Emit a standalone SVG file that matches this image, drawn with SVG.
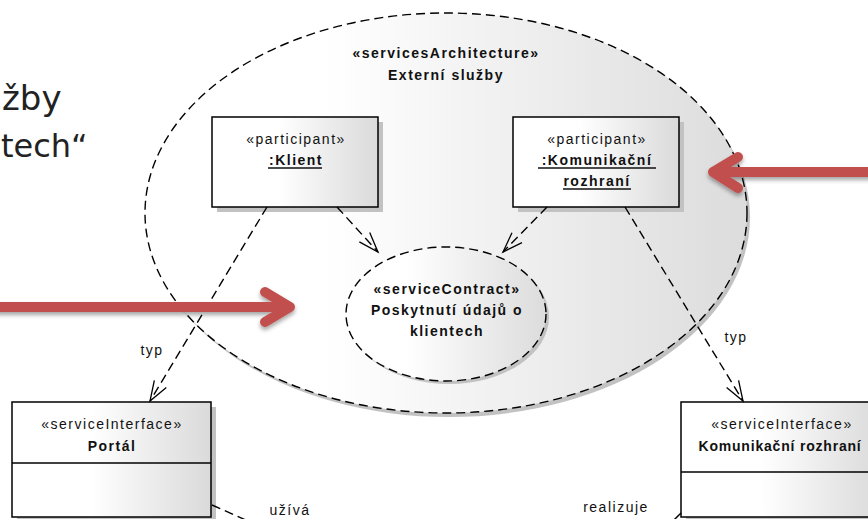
<svg xmlns="http://www.w3.org/2000/svg" width="868" height="519" viewBox="0 0 868 519">
<defs>
<style>
.t{font-family:"Liberation Sans",Arial,sans-serif;font-size:14px;letter-spacing:1.5px;fill:#111;text-anchor:middle}
.b{font-weight:bold}
.big{font-family:"DejaVu Sans",Verdana,sans-serif;font-size:34px;fill:#222}
.dash{stroke:#000;stroke-width:1.4;stroke-dasharray:9 5;fill:none}
.box{stroke:#000;stroke-width:1.5}
.shadow{fill:#c2c2c2}
.red{stroke:#C0504D;stroke-width:10;fill:none;stroke-linecap:round;stroke-linejoin:round}
.ul{stroke:#111;stroke-width:1.3}
</style>
<linearGradient id="gBig" x1="0" y1="0" x2="1" y2="0">
<stop offset="0.3" stop-color="#ffffff"/><stop offset="1" stop-color="#dcdcdc"/>
</linearGradient>
<linearGradient id="gBox" x1="0" y1="0" x2="1" y2="0">
<stop offset="0.4" stop-color="#ffffff"/><stop offset="1" stop-color="#dadada"/>
</linearGradient>
<marker id="open" markerUnits="userSpaceOnUse" markerWidth="24" markerHeight="18" refX="20" refY="7" orient="auto" overflow="visible">
<path d="M0,0 L20,7 L0,14" fill="none" stroke="#000" stroke-width="1.3"/>
</marker>
<filter id="sh" x="-10%" y="-50%" width="120%" height="200%">
<feDropShadow dx="0" dy="3" stdDeviation="2" flood-color="#000" flood-opacity="0.35"/>
</filter>
</defs>
<rect width="868" height="519" fill="#fff"/>

<text class="big" x="2" y="110">žby</text>
<text class="big" x="1" y="157" style="font-size:32px">tech“</text>

<g id="servicesArchitecture">
<ellipse cx="449" cy="217" rx="301" ry="200" class="shadow"/>
<ellipse cx="446" cy="213" rx="301" ry="200" fill="url(#gBig)"/>
<ellipse cx="446" cy="213" rx="301" ry="200" class="dash"/>
<text class="t b" x="446" y="58">«servicesArchitecture»</text>
<text class="t b" x="446" y="80">Externí služby</text>
</g>

<g id="klient">
<rect x="217" y="122" width="166" height="90" class="shadow"/>
<rect x="212" y="117" width="166" height="90" fill="url(#gBox)" class="box"/>
<text class="t" x="296" y="144">«participant»</text>
<text class="t b" x="296" y="165">:Klient</text>
<line x1="268" y1="168" x2="322" y2="168" class="ul"/>
</g>

<g id="komunikacni">
<rect x="518" y="122" width="166" height="90" class="shadow"/>
<rect x="513" y="117" width="166" height="90" fill="url(#gBox)" class="box"/>
<text class="t" x="597" y="144">«participant»</text>
<text class="t b" x="597" y="165">:Komunikační</text>
<line x1="538" y1="168" x2="656" y2="168" class="ul"/>
<text class="t b" x="597" y="186">rozhraní</text>
<line x1="563" y1="189" x2="631" y2="189" class="ul"/>
</g>

<g id="serviceContract">
<ellipse cx="449" cy="317" rx="100" ry="67" class="shadow"/>
<ellipse cx="446" cy="314" rx="100" ry="67" fill="url(#gBig)"/>
<ellipse cx="446" cy="314" rx="100" ry="67" class="dash"/>
<text class="t b" x="447" y="294">«serviceContract»</text>
<text class="t b" x="447" y="315">Poskytnutí údajů o</text>
<text class="t b" x="447" y="336">klientech</text>
</g>

<g id="portal">
<rect x="17" y="407" width="199" height="115" class="shadow"/>
<rect x="12" y="402" width="199" height="115" fill="url(#gBox)" class="box"/>
<line x1="12" y1="463" x2="211" y2="463" class="box"/>
<text class="t" x="112" y="429">«serviceInterface»</text>
<text class="t b" x="112" y="451">Portál</text>
</g>

<g id="komunikacniRozhrani">
<rect x="686" y="407" width="199" height="115" class="shadow"/>
<rect x="681" y="402" width="199" height="115" fill="url(#gBox)" class="box"/>
<line x1="681" y1="472" x2="880" y2="472" class="box"/>
<text class="t" x="782" y="429">«serviceInterface»</text>
<text class="t b" x="780" y="451" style="letter-spacing:0.8px">Komunikační rozhraní</text>
</g>

<g id="connectors">
<line x1="337" y1="207" x2="378" y2="252" class="dash" marker-end="url(#open)"/>
<line x1="547" y1="207" x2="503" y2="252" class="dash" marker-end="url(#open)"/>
<line x1="267" y1="207" x2="150" y2="401" class="dash" marker-end="url(#open)"/>
<line x1="625" y1="207" x2="743" y2="401" class="dash" marker-end="url(#open)"/>
<line x1="212" y1="505" x2="248" y2="521" class="dash"/>
<line x1="681" y1="513" x2="673" y2="521" class="dash"/>
<text class="t" x="152" y="355">typ</text>
<text class="t" x="736" y="342">typ</text>
<text class="t" x="290" y="515">užívá</text>
<text class="t" x="616" y="512">realizuje</text>
</g>

<g id="redArrows" filter="url(#sh)">
<line x1="-10" y1="307" x2="288" y2="307" class="red"/>
<polyline points="265,292 290,307 265,322" class="red"/>
<line x1="880" y1="172" x2="714" y2="172" class="red"/>
<polyline points="738,157 713,172 738,188" class="red"/>
</g>
</svg>
